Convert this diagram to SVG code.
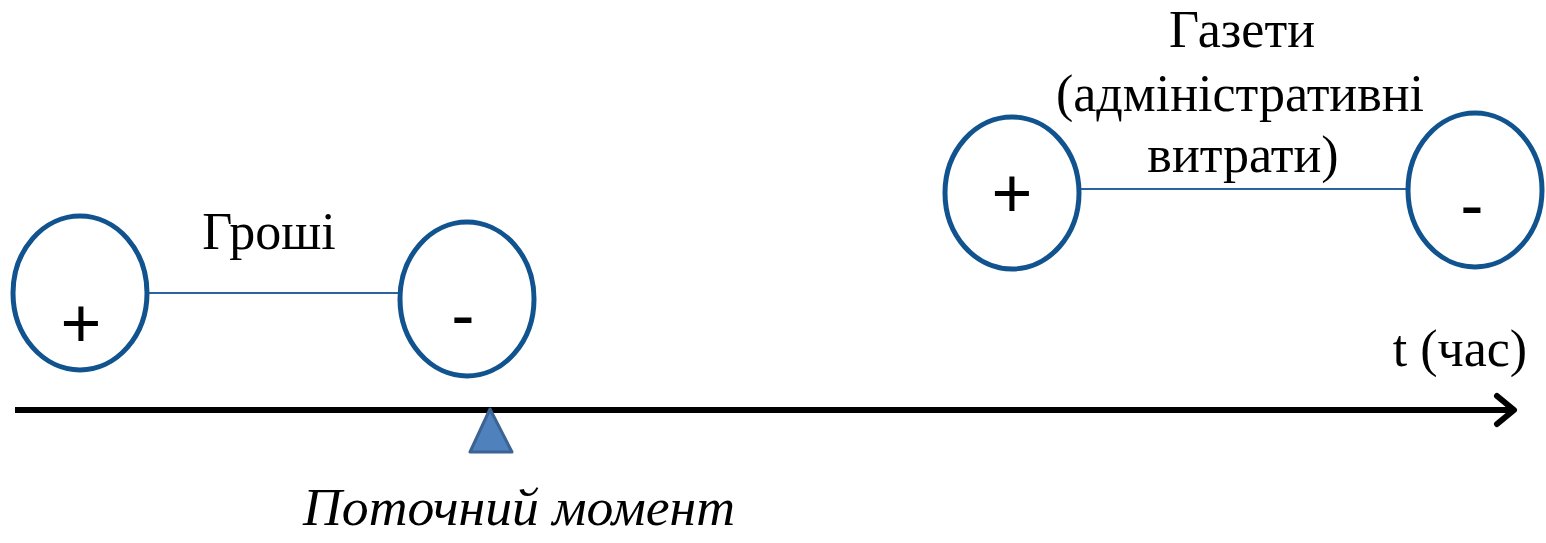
<svg xmlns="http://www.w3.org/2000/svg" width="1546" height="543" viewBox="0 0 1546 543">
<style>
.node ellipse{fill:#ffffff;stroke:#10538f;stroke-width:5}
.lbl{font-family:"Liberation Serif","Times New Roman",serif;font-size:52px;fill:#000}
.sign{font-family:"Liberation Sans",Arial,sans-serif;font-size:70px;fill:#000;text-anchor:middle}
.link{stroke:#2b62a0;stroke-width:2;fill:none}
</style>
<rect width="1546" height="543" fill="#ffffff"/>
<g id="connectors">
<line class="link" x1="148" y1="293" x2="400" y2="293"/>
<line class="link" x1="1080" y1="189" x2="1408" y2="189"/>
<line x1="15" y1="410" x2="1512" y2="410" stroke="#000" stroke-width="6"/>
<polyline points="1497,396 1514,410 1497,424" fill="none" stroke="#000" stroke-width="6" stroke-linecap="round" stroke-linejoin="round"/>
</g>
<g id="node-money-plus" class="node">
<ellipse cx="80" cy="293" rx="67" ry="77"/>
<text class="sign" x="81" y="347">+</text>
</g>
<g id="node-money-minus" class="node">
<ellipse cx="467" cy="299" rx="67" ry="77"/>
<text class="sign" x="463" y="339">-</text>
</g>
<g id="node-news-plus" class="node">
<ellipse cx="1012" cy="193" rx="67" ry="76"/>
<text class="sign" x="1012" y="217">+</text>
</g>
<g id="node-news-minus" class="node">
<ellipse cx="1475" cy="190" rx="67" ry="77"/>
<text class="sign" x="1472" y="229">-</text>
</g>
<text class="lbl" x="269" y="249" text-anchor="middle">Гроші</text>
<text class="lbl" text-anchor="middle"><tspan x="1242" y="47">Газети</tspan><tspan x="1240" y="111">(адміністративні</tspan><tspan x="1243" y="172">витрати)</tspan></text>
<text class="lbl" x="1460" y="366" text-anchor="middle">t (час)</text>
<g id="current-moment">
<polygon points="490,409 470,452 512,452" fill="#4f81bd" stroke="#3b6394" stroke-width="3" stroke-linejoin="round"/>
<text class="lbl" x="303" y="525" font-style="italic" font-size="54" textLength="432" lengthAdjust="spacingAndGlyphs">Поточний момент</text>
</g>
</svg>
